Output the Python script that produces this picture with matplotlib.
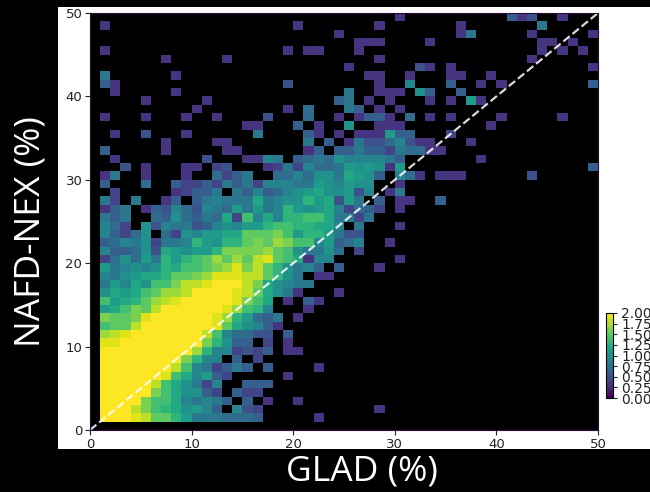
import numpy as np
import matplotlib
matplotlib.use('Agg')
import matplotlib.pyplot as plt
from matplotlib.patches import Rectangle

# log10 counts x10, one list per y bin, index = x bin. 0 means empty cell
row_01 = [0,20,20,20,19,18,15,15,13,11,8,8,8,7,7,7,6,0,0,0,0,0,3]
row_02 = [0,20,20,20,18,16,14,13,12,10,11,9,6,0,9,5,4,0,0,0,0,0,0,0,0,0,0,0,3]
row_03 = [0,20,20,20,20,16,14,14,12,9,8,9,8,6,0,6,0,3,0,0,3]
row_04 = [0,20,20,20,20,20,16,14,12,10,10,6,4,0,6,4,4]
row_05 = [0,20,20,20,20,20,18,14,12,10,8,4,9,0,0,6,6,6]
row_06 = [0,20,20,20,20,20,20,19,14,12,9,11,6,4,0,0,0,0,0,3]
row_07 = [0,20,20,20,20,20,20,20,18,14,9,8,4,6,8,6,0,6,0,0,0,0,3]
row_08 = [0,20,20,20,20,20,20,20,20,16,13,9,9,0,6,0,4]
row_09 = [0,20,20,20,20,20,20,20,20,20,17,13,9,9,4,5,4,6,0,3,3]
row_10 = [0,19,19,20,20,20,20,20,20,20,20,16,13,10,6,6,0,4,0,3]
row_11 = [0,17,18,19,20,20,20,20,20,20,20,18,14,9,7,7,5,5,0,6]
row_12 = [0,14,15,15,18,20,20,20,20,20,20,20,19,15,12,10,9,6,3]
row_13 = [0,16,15,15,16,19,20,20,20,20,20,20,19,17,13,11,7,6,8,0,3]
row_14 = [0,11,12,14,16,15,18,20,20,20,20,20,20,19,17,14,13,9,0,0,0,3]
row_15 = [0,14,11,12,13,15,17,18,19,20,20,20,20,20,19,16,14,12,0,3,0,6,3]
row_16 = [0,10,12,11,12,14,15,17,17,18,20,20,20,20,19,18,15,12,10,8,3,0,0,0,3]
row_17 = [0,8,11,9,12,10,14,14,16,18,18,19,20,20,20,18,16,12,10,9,8,8]
row_18 = [0,9,8,10,11,12,12,13,15,15,16,17,19,19,19,18,18,15,13,10,8,0,3,3]
row_19 = [0,11,8,9,10,9,10,13,12,14,14,15,16,17,19,16,18,15,13,10,8,9,6,0,6,0,0,0,3]
row_20 = [0,4,7,10,7,11,8,13,11,13,14,15,17,15,17,15,18,19,15,14,12,3,9,9,0,0,0,0,0,0,3]
row_21 = [0,9,6,6,7,10,5,12,11,10,11,11,13,16,16,16,16,17,15,14,10,8,8,10,7,0,4]
row_22 = [0,6,7,9,8,10,4,8,8,9,13,11,10,13,13,15,16,15,17,16,14,14,9,11,6,7,9,0,0,3]
row_23 = [0,9,6,4,7,10,0,7,4,10,9,11,11,12,12,15,15,15,16,14,11,13,13,11,8,5,5]
row_24 = [0,9,7,4,0,10,5,9,8,8,5,6,9,10,9,11,11,13,14,14,13,13,12,12,9,0,8,0,0,0,3]
row_25 = [0,8,6,8,0,0,7,6,10,7,6,8,7,12,4,14,9,12,9,13,13,14,14,12,8,8,4,8]
row_26 = [0,3,6,8,0,3,6,5,9,7,5,9,8,7,11,8,11,8,9,13,11,10,11,12,9,4,7,6,4,0,3]
row_27 = [0,8,4,0,8,0,0,3,6,0,6,8,9,8,8,8,12,8,9,10,10,13,11,12,5,11,8,0,6,0,3,3,0,0,6]
row_28 = [0,0,4,0,0,0,0,0,3,4,6,6,8,0,8,6,9,6,7,9,10,11,12,10,10,11,5,9,0,3,8]
row_29 = [0,6,0,0,0,7,0,0,6,4,4,6,4,8,6,8,4,9,9,9,8,8,11,10,9,11,10,10,0,0,3]

# sparse rows, x bin: value
row_30 = {1:3,2:8,5:3,9:3,12:7,13:4,14:6,15:8,18:7,19:7,20:9,21:7,22:10,23:10,24:8,25:12,26:11,27:10,28:6,30:9,31:7,32:3,34:3,35:3,36:3,43:5}
row_31 = {3:5,5:3,9:3,10:3,12:4,13:5,17:3,18:4,19:8,20:4,21:9,22:7,23:7,24:8,25:11,26:10,27:11,28:10,29:3,30:11,49:6}
row_32 = {2:3,11:5,15:3,16:3,17:9,18:8,20:6,21:7,22:8,23:7,24:10,25:9,26:9,27:9,28:9,29:8,30:6,38:3}
row_33 = {1:6,7:3,13:3,14:3,21:3,22:6,24:6,25:6,26:8,27:6,28:6,29:4,30:8,31:7,32:7,33:3,34:3}
row_34 = {7:3,12:3,13:3,21:8,23:6,25:3,26:8,27:5,28:5,29:7,30:9,31:5,32:3,33:3,37:3}
row_35 = {2:3,5:5,9:3,16:8,21:6,22:3,24:3,26:3,27:3,28:3,29:11,30:6,31:6,35:4}
row_36 = {15:3,16:3,20:6,22:3,25:10,28:3,29:3,30:3,39:3}
row_37 = {1:3,5:3,9:3,12:3,17:5,21:7,24:3,26:3,27:6,28:6,29:3,31:7,33:3,35:3,40:3,46:3}
row_38 = {10:3,19:3,21:7,25:8,26:6,28:3,30:3}
row_39 = {5:3,11:3,24:6,25:8,27:3,29:3,33:3,35:3,37:11,38:3}
row_40 = {2:3,8:3,25:8,28:3,29:3,30:3,32:10,33:6,36:6}
row_41 = {1:6,2:3,19:5,28:3,31:9,35:6,38:3,40:3,49:6}
row_42 = {1:8,8:3,27:3,28:3,31:3,35:3,36:3,39:3}
row_43 = {25:3,32:5,33:3,35:3,49:3}
row_44 = {7:3,13:3,28:3,43:3}
row_45 = {1:3,19:3,21:3,22:3,26:3,44:3,46:3,48:3}
row_46 = {26:3,27:3,28:3,33:3,44:3,45:3,47:3}
row_47 = {24:3,36:3,37:8,43:3,49:3}
row_48 = {1:3,20:3,28:3,36:3,44:8}
row_49 = {30:3,41:6,42:3,43:5,46:3}

dense_rows = [row_01,row_02,row_03,row_04,row_05,row_06,row_07,row_08,row_09,row_10,
              row_11,row_12,row_13,row_14,row_15,row_16,row_17,row_18,row_19,row_20,
              row_21,row_22,row_23,row_24,row_25,row_26,row_27,row_28,row_29]
sparse_rows = [row_30,row_31,row_32,row_33,row_34,row_35,row_36,row_37,row_38,row_39,
               row_40,row_41,row_42,row_43,row_44,row_45,row_46,row_47,row_48,row_49]

axis_ticks = [0, 10, 20, 30, 40, 50]
cbar_ticks = [0.0, 0.25, 0.5, 0.75, 1.0, 1.25, 1.5, 1.75, 2.0]

grid = np.zeros((50, 50))
for i, r in enumerate(dense_rows):
    grid[i + 1, :len(r)] = r
for i, r in enumerate(sparse_rows):
    for k, v in r.items():
        grid[i + 30, k] = v
grid = np.ma.masked_equal(grid / 10.0, 0)

W, H = 650, 492


def px_box(x0, y0, x1, y1):
    # pixel box (y down) to figure fractions
    return [x0 / W, 1 - y1 / H, (x1 - x0) / W, (y1 - y0) / H]


fig = plt.figure(figsize=(W / 100, H / 100), dpi=100, facecolor='black')
# white sheet behind the plot, has to sit under the axes
fig.add_artist(Rectangle((58 / W, 1 - 449 / H), (W - 58) / W, 442 / H,
                         transform=fig.transFigure, facecolor='white',
                         edgecolor='none', zorder=-1))

ax = fig.add_axes(px_box(90, 13, 598, 430))
ax.set_facecolor('black')
edges = np.arange(51)
mesh = ax.pcolormesh(edges, edges, grid, cmap='viridis', vmin=0, vmax=2)
ax.plot([0, 50], [0, 50], color='white', ls='--', lw=1.6, alpha=0.85)
ax.set_xlim(0, 50)
ax.set_ylim(0, 50)
ax.set_xticks(axis_ticks)
ax.set_yticks(axis_ticks)
ax.tick_params(labelsize=9.5, colors='#222222', length=3.5, width=0.8, pad=2)
for s in ax.spines.values():
    s.set_color('#2a0c3c')

cax = fig.add_axes(px_box(606, 313, 613, 398))
cb = fig.colorbar(mesh, cax=cax, ticks=cbar_ticks, format='%.2f')
cb.ax.tick_params(labelsize=10, colors='#222222', length=3, width=0.8, pad=3)

fig.text(362 / W, 1 - 472 / H, 'GLAD (%)', color='white', fontsize=25.5,
         family='Open Sans', ha='center', va='center')
fig.text(31 / W, 1 - 232 / H, 'NAFD-NEX (%)', color='white', fontsize=25.5,
         family='Open Sans', rotation=90, ha='center', va='center')

fig.savefig('out.png', dpi=100, facecolor='black')
